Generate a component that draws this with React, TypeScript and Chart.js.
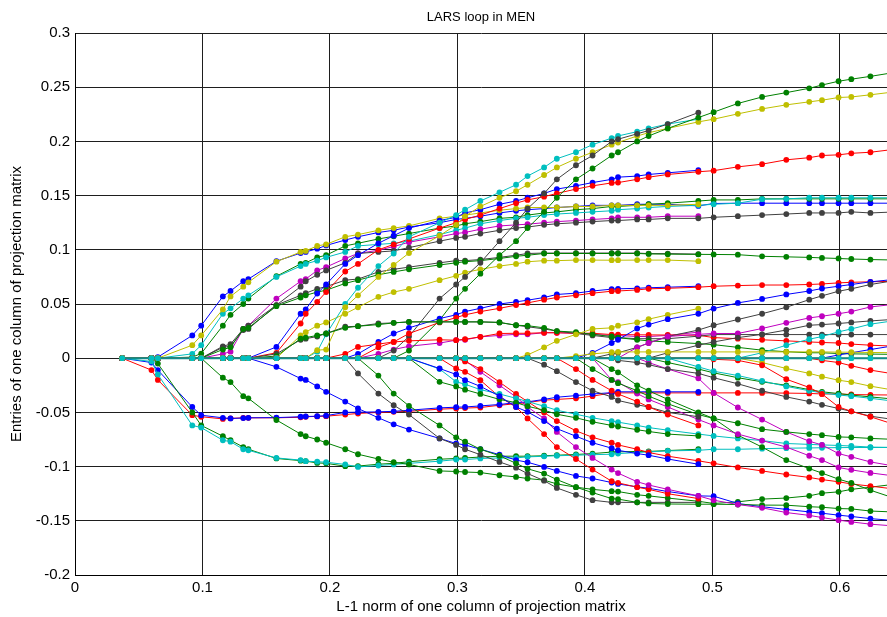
import React, { useEffect, useRef } from 'react';
import { Chart, registerables } from 'chart.js';

Chart.register(...registerables);

const N = null;

const titleText = 'LARS loop in MEN';
const xTitle = 'L-1 norm of one column of projection matrix';
const yTitle = 'Entries of one column of projection matrix';

const xTicks = [0, 0.1, 0.2, 0.3, 0.4, 0.5, 0.6];
const xTickLabels = ['0', '0.1', '0.2', '0.3', '0.4', '0.5', '0.6'];
const yTicks = [-0.2, -0.15, -0.1, -0.05, 0, 0.05, 0.1, 0.15, 0.2, 0.25, 0.3];
const yTickLabels = ['-0.2', '-0.15', '-0.1', '-0.05', '0', '0.05', '0.1', '0.15', '0.2', '0.25', '0.3'];

// L1-norm at each LARS step
const xSteps = [
  0.037, 0.060, 0.065, 0.092, 0.099, 0.116, 0.122, 0.132, 0.136, 0.158,
  0.177, 0.181, 0.190, 0.197, 0.212, 0.222, 0.238, 0.250, 0.262, 0.286,
  0.299, 0.306, 0.318, 0.333, 0.346, 0.355, 0.368, 0.378, 0.393, 0.406,
  0.421, 0.426, 0.441, 0.450, 0.465, 0.489, 0.501, 0.520, 0.539, 0.558,
  0.576, 0.586, 0.599, 0.609, 0.624, 0.645,
];

const blue1 = [
  0, 0, 0.001, 0.021, 0.03, 0.057, 0.062, 0.071, 0.073, 0.0895,
  0.097, 0.098, 0.101, 0.104, 0.109, 0.112, 0.116, 0.118, 0.121, 0.125,
  0.128, 0.129, 0.131, 0.134, 0.136, 0.137, 0.138, 0.139, 0.14, 0.141,
  0.141, 0.141, 0.142, 0.142, 0.142, 0.1405, 0.1427, 0.143, 0.143, 0.143,
  0.143, 0.143, 0.143, 0.143, 0.143, 0.143,
];
const yellow1 = [
  0, 0, 0, 0.012, 0.021, 0.045, 0.057, 0.066, 0.07, 0.089,
  0.098, 0.099, 0.1036, 0.105, 0.112, 0.114, 0.118, 0.12, 0.122, 0.129,
  0.131, 0.132, 0.134, 0.1365, 0.138, 0.139, 0.139, 0.139, 0.14, 0.14,
  0.141, 0.141, 0.141, 0.141, 0.141, 0.142, N, N, N, N,
  N, N, N, N, N, N,
];
const cyan1 = [
  0, 0, 0, 0.004, 0.012, 0.041, 0.046, 0.055, 0.058, 0.075,
  0.085, 0.087, 0.09, 0.093, 0.098, 0.1036, 0.105, 0.106, 0.108, 0.114,
  0.118, 0.12, 0.124, 0.127, 0.129, 0.13, 0.132, 0.133, 0.134, 0.135,
  0.136, 0.137, 0.138, 0.139, 0.14, 0.141, 0.142, 0.143, 0.1467, 0.147,
  0.148, 0.148, 0.148, 0.148, 0.148, 0.148,
];
const green1 = [
  0, 0, 0, 0.001, 0.0043, 0.03, 0.04, 0.05, 0.055, 0.0756,
  0.087, 0.088, 0.093, 0.095, 0.1036, 0.106, 0.11, 0.1125, 0.115, 0.12,
  0.122, 0.124, 0.126, 0.129, 0.13, 0.132, 0.134, 0.135, 0.137, 0.138,
  0.14, 0.14, 0.141, 0.142, 0.143, 0.145, 0.146, 0.146, 0.147, 0.147,
  0.147, 0.147, 0.147, 0.147, 0.147, 0.147,
];
const magenta1 = [
  0, 0, 0, 0, 0, 0.004, 0.006, 0.027, 0.03, 0.055,
  0.071, 0.073, 0.081, 0.084, 0.092, 0.0966, 0.0996, 0.103, 0.107, 0.112,
  0.115, 0.116, 0.119, 0.122, 0.123, 0.1236, 0.125, 0.126, 0.127, 0.128,
  0.129, 0.13, 0.13, 0.13, 0.131, 0.131, N, N, N, N,
  N, N, N, N, N, N,
];
const gray1 = [
  0, 0, 0, 0, 0, 0.011, 0.013, 0.027, 0.03, 0.049,
  0.066, 0.071, 0.077, 0.081, 0.088, 0.0966, 0.098, 0.099, 0.102, 0.108,
  0.111, 0.112, 0.115, 0.118, 0.12, 0.121, 0.123, 0.124, 0.125, 0.126,
  0.127, 0.127, 0.128, 0.128, 0.129, 0.129, 0.13, 0.131, 0.132, 0.133,
  0.134, 0.134, 0.134, 0.135, 0.134, 0.135,
];
const gray2 = [
  0, 0, 0, 0, 0, 0.01, 0.011, 0.026, 0.027, 0.049,
  0.058, 0.06, 0.064, 0.066, 0.072, 0.073, 0.0796, 0.082, 0.084, 0.088,
  0.09, 0.09, 0.091, 0.093, 0.095, 0.0966, 0.097, 0.097, 0.097, 0.097,
  0.097, 0.097, 0.097, 0.0965, 0.0965, 0.096, N, N, N, N,
  N, N, N, N, N, N,
];
const green2 = [
  0, 0, 0, 0, 0, 0.008, 0.01, 0.027, 0.028, 0.048,
  0.056, 0.058, 0.061, 0.0627, 0.069, 0.072, 0.077, 0.0796, 0.082, 0.086,
  0.088, 0.089, 0.09, 0.092, 0.094, 0.095, 0.0966, 0.0966, 0.0966, 0.0966,
  0.0966, 0.0966, 0.0966, 0.0962, 0.096, 0.0958, 0.0957, 0.0955, 0.094, 0.0935,
  0.093, 0.0925, 0.092, 0.0915, 0.091, 0.0905,
];
const blue2 = [
  0, 0, 0, 0, 0, 0, 0, 0, 0, 0.0104,
  0.041, 0.045, 0.0597, 0.068, 0.087, 0.095, 0.106, 0.113, 0.12, 0.127,
  0.13, 0.134, 0.137, 0.142, 0.145, 0.148, 0.152, 0.156, 0.159, 0.162,
  0.165, 0.167, 0.168, 0.1695, 0.171, 0.1734, N, N, N, N,
  N, N, N, N, N, N,
];
const red1 = [
  0, 0, 0, 0, 0, 0, 0, 0, 0, 0.005,
  0.032, 0.041, 0.052, 0.061, 0.08, 0.087, 0.1, 0.105, 0.11, 0.12,
  0.125, 0.128, 0.132, 0.138, 0.143, 0.146, 0.149, 0.152, 0.156, 0.159,
  0.1617, 0.162, 0.165, 0.167, 0.1695, 0.172, 0.173, 0.1765, 0.179, 0.183,
  0.185, 0.187, 0.1876, 0.189, 0.19, 0.193,
];
const yellow2 = [
  0, 0, 0, 0, 0, 0, 0, 0, 0, 0,
  0.021, 0.024, 0.03, 0.033, 0.041, 0.047, 0.0566, 0.061, 0.064, 0.072,
  0.076, 0.079, 0.082, 0.085, 0.087, 0.089, 0.09, 0.09, 0.0905, 0.0905,
  0.0904, 0.0904, 0.0905, 0.0905, 0.0905, 0.0895, N, N, N, N,
  N, N, N, N, N, N,
];
const blue3 = [
  0, 0, 0, 0, 0, 0, 0, 0, 0, 0.002,
  0.015, 0.021, 0.026, 0.03, 0.038, 0.043, 0.045, 0.0566, 0.061, 0.068,
  0.072, 0.075, 0.079, 0.083, 0.086, 0.087, 0.089, 0.09, 0.09, 0.09,
  0.09, 0.09, 0.0905, 0.0905, 0.09, 0.0895, 0.0895, 0.0885, 0.0876, 0.086,
  0.0855, 0.0855, 0.085, 0.084, 0.0837, 0.083,
];
const cyan2 = [
  0, 0, 0, 0, 0, 0, 0, 0, 0, 0,
  0, 0, 0.006, 0.022, 0.05, 0.065, 0.085, 0.0966, 0.112, 0.125,
  0.132, 0.137, 0.145, 0.153, 0.16, 0.168, 0.176, 0.184, 0.19, 0.197,
  0.203, 0.205, 0.209, 0.212, 0.216, 0.2205, N, N, N, N,
  N, N, N, N, N, N,
];
const yellow3 = [
  0, 0, 0, 0, 0, 0, 0, 0, 0, 0,
  0, 0, 0.0074, 0.008, 0.047, 0.058, 0.075, 0.086, 0.097, 0.113,
  0.123, 0.131, 0.14, 0.148, 0.154, 0.16, 0.169, 0.176, 0.184, 0.19,
  0.197, 0.199, 0.205, 0.208, 0.212, 0.218, 0.2205, 0.2254, 0.23, 0.2337,
  0.2365, 0.238, 0.2405, 0.241, 0.243, 0.246,
];
const gray3 = [
  0, 0, 0, 0, 0, 0, 0, 0, 0, 0,
  0, 0, 0, 0, 0, 0, 0, 0.007, 0.02, 0.055,
  0.068, 0.075, 0.088, 0.108, 0.125, 0.138, 0.152, 0.165, 0.178, 0.187,
  0.2, 0.202, 0.207, 0.21, 0.216, 0.2266, N, N, N, N,
  N, N, N, N, N, N,
];
const green3 = [
  0, 0, 0, 0, 0, 0, 0, 0, 0, 0,
  0, 0, 0, 0, 0, 0, 0, 0, 0.007, 0.035,
  0.055, 0.064, 0.078, 0.095, 0.108, 0.12, 0.135, 0.148, 0.165, 0.175,
  0.187, 0.19, 0.2, 0.205, 0.212, 0.222, 0.227, 0.235, 0.241, 0.245,
  0.249, 0.252, 0.2555, 0.2574, 0.26, 0.264,
];
const blue4 = [
  0, 0, 0, 0, 0, 0, 0, 0, 0, 0,
  0, 0, 0, 0, 0, 0.004, 0.015, 0.0228, 0.028, 0.0366,
  0.04, 0.043, 0.046, 0.05, 0.052, 0.0535, 0.056, 0.0588, 0.06, 0.062,
  0.0637, 0.064, 0.0645, 0.065, 0.0655, 0.0664, N, N, N, N,
  N, N, N, N, N, N,
];
const red2 = [
  0, 0, 0, 0, 0, 0, 0, 0, 0, 0,
  0, 0, 0, 0, 0, 0, 0.01, 0.015, 0.0228, 0.033,
  0.0375, 0.04, 0.043, 0.046, 0.049, 0.051, 0.054, 0.056, 0.058, 0.06,
  0.0618, 0.062, 0.063, 0.064, 0.0645, 0.0655, 0.0664, 0.067, 0.0675, 0.0675,
  0.068, 0.0685, 0.0695, 0.07, 0.0705, 0.071,
];
const red3 = [
  0, 0, 0, 0, 0, 0, 0, 0, 0, 0,
  0, 0, 0, 0, 0.004, 0.0104, 0.013, 0.015, 0.016, 0.017,
  0.0166, 0.0175, 0.0197, 0.0228, 0.023, 0.023, 0.0235, 0.0235, 0.023, 0.023,
  0.0218, 0.0218, 0.0216, 0.0215, 0.0214, 0.0212, 0.019, 0.018, 0.017, 0.016,
  0.015, 0.0145, 0.014, 0.013, 0.012, 0.011,
];
const magenta2 = [
  0, 0, 0, 0, 0, 0, 0, 0, 0, 0,
  0, 0, 0, 0, 0, 0, 0.004, 0.008, 0.011, 0.014,
  0.0166, 0.017, 0.0197, 0.021, 0.022, 0.022, 0.0235, 0.0235, 0.023, 0.022,
  0.021, 0.021, 0.02, 0.02, 0.021, 0.024, N, N, N, N,
  N, N, N, N, N, N,
];
const gray4 = [
  0, 0, 0, 0, 0, 0, 0, 0, 0, 0.004,
  0.017, 0.018, 0.02, 0.0228, 0.029, 0.0295, 0.032, 0.0326, 0.0335, 0.0335,
  0.0335, 0.0335, 0.0335, 0.033, 0.0304, 0.029, 0.027, 0.025, 0.0228, 0.021,
  0.019, 0.019, 0.018, 0.018, 0.018, 0.0203, 0.0218, 0.0218, 0.0218, 0.0218,
  0.0218, 0.0218, 0.0218, 0.0218, 0.0218, 0.0218,
];
const green4 = [
  0, 0, 0, 0, 0, 0, 0, 0, 0, 0.002,
  0.018, 0.019, 0.021, 0.0228, 0.028, 0.0295, 0.031, 0.0326, 0.0335, 0.0335,
  0.0335, 0.0335, 0.0335, 0.033, 0.0304, 0.03, 0.028, 0.025, 0.024, 0.022,
  0.02, 0.019, 0.017, 0.016, 0.015, 0.0135, 0.0125, 0.01, 0.0074, 0.006,
  0.005, 0.005, 0.0043, 0.004, 0.0038, 0.0035,
];
const red4 = [
  0, -0.011, -0.02, -0.0526, -0.054, -0.056, -0.0555, -0.055, -0.055, -0.055,
  -0.0545, -0.054, -0.0537, -0.0535, -0.052, -0.051, -0.05, -0.0495, -0.049, -0.047,
  -0.0464, -0.046, -0.0455, -0.0434, -0.042, -0.041, -0.0387, -0.038, -0.037, -0.035,
  -0.032, -0.032, -0.032, -0.032, -0.032, -0.032, -0.032, -0.032, -0.032, -0.0322,
  -0.0325, -0.033, -0.033, -0.0335, -0.0338, -0.034,
];
const blue5 = [
  0, -0.004, -0.011, -0.045, -0.0526, -0.055, -0.0556, -0.0552, -0.055, -0.0548,
  -0.054, -0.0538, -0.0535, -0.053, -0.05, -0.0498, -0.0495, -0.049, -0.048, -0.0458,
  -0.0452, -0.045, -0.044, -0.0427, -0.041, -0.0403, -0.038, -0.036, -0.0345, -0.033,
  -0.0318, -0.031, -0.031, -0.031, -0.031, -0.031, N, N, N, N,
  N, N, N, N, N, N,
];
const cyan3 = [
  0, -0.003, -0.015, -0.062, -0.064, -0.0757, -0.077, -0.084, -0.085, -0.092,
  -0.094, -0.095, -0.0955, -0.096, -0.098, -0.1003, -0.099, -0.098, -0.097, -0.095,
  -0.0935, -0.0935, -0.0925, -0.092, -0.092, -0.091, -0.0905, -0.09, -0.0895, -0.089,
  -0.0886, -0.088, -0.087, -0.0865, -0.0855, -0.085, -0.084, -0.084, -0.0835, -0.083,
  -0.0828, -0.0826, -0.0825, -0.0824, -0.0824, -0.0822,
];
const green5 = [
  0, 0, -0.005, -0.05, -0.062, -0.072, -0.0757, -0.082, -0.084, -0.0925,
  -0.0945, -0.095, -0.0966, -0.097, -0.0996, -0.0995, -0.0978, -0.097, -0.0955, -0.0932,
  -0.0925, -0.092, -0.0912, -0.0904, -0.0904, -0.0904, -0.09, -0.0895, -0.0888, -0.088,
  -0.0866, -0.0864, -0.086, -0.086, -0.0852, -0.084, N, N, N, N,
  N, N, N, N, N, N,
];
const green6 = [
  0, 0, 0, 0, 0, -0.018, -0.022, -0.035, -0.037, -0.057,
  -0.07, -0.072, -0.075, -0.078, -0.084, -0.0886, -0.093, -0.096, -0.098, -0.104,
  -0.1045, -0.105, -0.1055, -0.108, -0.1095, -0.111, -0.1125, -0.116, -0.119, -0.121,
  -0.1227, -0.123, -0.126, -0.127, -0.129, -0.132, -0.134, -0.1325, -0.13, -0.129,
  -0.127, -0.1245, -0.1233, -0.121, -0.119, -0.116,
];
const blue6 = [
  0, 0, 0, 0, 0, 0, 0, 0, 0, -0.008,
  -0.0188, -0.02, -0.026, -0.031, -0.04, -0.0464, -0.055, -0.061, -0.0658, -0.074,
  -0.0787, -0.08, -0.084, -0.089, -0.094, -0.096, -0.1003, -0.104, -0.1086, -0.111,
  -0.1147, -0.116, -0.1187, -0.12, -0.123, -0.127, -0.1273, -0.134, -0.137, -0.1395,
  -0.1418, -0.143, -0.1448, -0.146, -0.148, -0.15,
];
const gray5 = [
  0, 0, 0, 0, 0, 0, 0, 0, 0, 0,
  0, 0, 0, 0, 0, -0.014, -0.0326, -0.0434, -0.052, -0.074,
  -0.08, -0.084, -0.089, -0.0957, -0.101, -0.1064, -0.113, -0.1197, -0.126, -0.131,
  -0.133, -0.133, -0.133, -0.133, -0.133, -0.133, N, N, N, N,
  N, N, N, N, N, N,
];
const green7 = [
  0, 0, 0, 0, 0, 0, 0, 0, 0, 0,
  0, 0, 0, 0, 0, 0, -0.016, -0.0326, -0.044, -0.062,
  -0.073, -0.077, -0.084, -0.09, -0.097, -0.102, -0.1064, -0.112, -0.119, -0.124,
  -0.1295, -0.13, -0.133, -0.134, -0.1345, -0.1347, -0.1347, -0.135, -0.1355, -0.1356,
  -0.137, -0.1375, -0.1387, -0.139, -0.141, -0.142,
];
const red5 = [
  0, 0, 0, 0, 0, 0, 0, 0, 0, 0,
  0, 0, 0, 0, 0, 0, 0, 0, 0, 0,
  -0.0095, -0.0126, -0.0203, -0.0357, -0.045, -0.0556, -0.07, -0.082, -0.093, -0.1027,
  -0.1135, -0.115, -0.119, -0.121, -0.125, -0.1295, N, N, N, N,
  N, N, N, N, N, N,
];
const magenta3 = [
  0, 0, 0, 0, 0, 0, 0, 0, 0, 0,
  0, 0, 0, 0, 0, 0, 0, 0, 0, 0,
  0, -0.002, -0.0126, -0.025, -0.0357, -0.045, -0.0556, -0.068, -0.082, -0.092,
  -0.1027, -0.106, -0.114, -0.117, -0.121, -0.127, -0.131, -0.135, -0.138, -0.1424,
  -0.145, -0.147, -0.1494, -0.151, -0.1531, -0.155,
];
const red6 = [
  0, 0, 0, 0, 0, 0, 0, 0, 0, 0,
  0, 0, 0, 0, 0, 0, 0, 0, 0, 0,
  0, -0.003, -0.01, -0.022, -0.033, -0.04, -0.05, -0.058, -0.067, -0.073,
  -0.078, -0.08, -0.084, -0.087, -0.0904, -0.0947, -0.097, -0.1008, -0.104, -0.1073,
  -0.11, -0.112, -0.114, -0.116, -0.118, -0.121,
];
const cyan4 = [
  0, 0, 0, 0, 0, 0, 0, 0, 0, 0,
  0, 0, 0, 0, 0, 0, 0, 0, 0, -0.01,
  -0.0218, -0.024, -0.029, -0.033, -0.037, -0.04, -0.0443, -0.048, -0.0517, -0.055,
  -0.058, -0.059, -0.062, -0.064, -0.0664, -0.07, -0.0717, -0.074, -0.076, -0.0787,
  -0.0795, -0.08, -0.0805, -0.081, -0.082, -0.0825,
];
const green8 = [
  0, 0, 0, 0, 0, 0, 0, 0, 0, 0,
  0, 0, 0, 0, 0, 0, 0, 0, 0, -0.0218,
  -0.026, -0.029, -0.033, -0.038, -0.041, -0.0443, -0.048, -0.0517, -0.055, -0.0587,
  -0.062, -0.063, -0.066, -0.0676, -0.07, -0.0717, N, N, N, N,
  N, N, N, N, N, N,
];
const green9 = [
  0, 0, 0, 0, 0, 0, 0, 0, 0, 0,
  0, 0, 0, 0, 0, 0, 0, 0, 0, 0,
  0, 0, 0, 0, 0, 0, 0, 0, 0, 0,
  -0.01, -0.013, -0.025, -0.03, -0.038, -0.05, -0.0556, -0.071, -0.082, -0.094,
  -0.1018, -0.106, -0.1116, -0.115, -0.1218, -0.13,
];
const magenta4 = [
  0, 0, 0, 0, 0, 0, 0, 0, 0, 0,
  0, 0, 0, 0, 0, 0, 0, 0, 0, 0,
  0, 0, 0, 0, 0, 0, 0, 0, 0, 0,
  0, 0, 0, -0.004, -0.01, -0.0185, -0.032, -0.0455, -0.0566, -0.068,
  -0.0766, -0.08, -0.088, -0.091, -0.0957, -0.1,
];
const magenta5 = [
  0, 0, 0, 0, 0, 0, 0, 0, 0, 0,
  0, 0, 0, 0, 0, 0, 0, 0, 0, 0,
  0, 0, 0, 0, 0, 0, 0, 0, 0, 0,
  -0.02, -0.022, -0.0326, -0.038, -0.045, -0.0566, -0.062, -0.07, -0.076, -0.082,
  -0.09, -0.094, -0.1008, -0.103, -0.1058, -0.109,
];
const yellow4 = [
  0, 0, 0, 0, 0, 0, 0, 0, 0, 0,
  0, 0, 0, 0, 0, 0, 0, 0, 0, 0,
  0, 0, 0, 0, 0, 0.003, 0.01, 0.016, 0.022, 0.027,
  0.028, 0.03, 0.033, 0.036, 0.04, 0.0458, N, N, N, N,
  N, N, N, N, N, N,
];
const blue7 = [
  0, 0, 0, 0, 0, 0, 0, 0, 0, 0,
  0, 0, 0, 0, 0, 0, 0, 0, 0, 0,
  0, 0, 0, 0, 0, 0, 0, 0, 0, 0.005,
  0.014, 0.017, 0.0274, 0.031, 0.036, 0.041, 0.0458, 0.051, 0.0547, 0.0588,
  0.062, 0.0643, 0.0664, 0.068, 0.0704, 0.073,
];
const gray6 = [
  0, 0, 0, 0, 0, 0, 0, 0, 0, 0,
  0, 0, 0, 0, 0, 0, 0, 0, 0, 0,
  0, 0, 0, 0, 0, 0, 0, 0, 0, 0,
  0.004, 0.005, 0.01, 0.014, 0.02, 0.026, 0.0304, 0.0357, 0.041, 0.047,
  0.054, 0.0575, 0.0618, 0.064, 0.068, 0.072,
];
const magenta6 = [
  0, 0, 0, 0, 0, 0, 0, 0, 0, 0,
  0, 0, 0, 0, 0, 0, 0, 0, 0, 0,
  0, 0, 0, 0, 0, 0, 0, 0, 0, 0,
  0, 0, 0.01, 0.014, 0.02, 0.022, 0.0228, 0.0228, 0.0274, 0.0326,
  0.0372, 0.0387, 0.041, 0.043, 0.0473, 0.05,
];
const gray7 = [
  0, 0, 0, 0, 0, 0, 0, 0, 0, 0,
  0, 0, 0, 0, 0, 0, 0, 0, 0, 0,
  0, 0, 0, 0, 0, 0, 0, 0, 0, 0,
  0, 0, 0, 0, 0.005, 0.012, 0.015, 0.019, 0.022, 0.026,
  0.0304, 0.031, 0.032, 0.033, 0.0344, 0.036,
];
const cyan5 = [
  0, 0, 0, 0, 0, 0, 0, 0, 0, 0,
  0, 0, 0, 0, 0, 0, 0, 0, 0, 0,
  0, 0, 0, 0, 0, 0, 0, 0, 0, 0,
  0, 0, 0, 0, 0, 0, 0, 0, 0.005, 0.012,
  0.0175, 0.02, 0.0243, 0.027, 0.0314, 0.035,
];
const blue8 = [
  0, 0, 0, 0, 0, 0, 0, 0, 0, 0,
  0, 0, 0, 0, 0, 0, 0, 0, 0, 0,
  0, 0, 0, 0, 0, 0, 0, 0, 0, 0,
  0, 0, 0, 0, 0, 0, 0, 0, 0, 0,
  0, 0, 0.003, 0.005, 0.008, 0.012,
];
const yellow5 = [
  0, 0, 0, 0, 0, 0, 0, 0, 0, 0,
  0, 0, 0, 0, 0, 0, 0, 0, 0, 0,
  0, 0, 0, 0, 0, 0, 0, 0, 0, 0,
  0, 0, 0, 0, 0, 0, 0, 0, -0.004, -0.0095,
  -0.014, -0.017, -0.0203, -0.022, -0.0258, -0.03,
];
const yellow6 = [
  0, 0, 0, 0, 0, 0, 0, 0, 0, 0,
  0, 0, 0, 0, 0, 0, 0, 0, 0, 0,
  0, 0, 0, 0, 0, 0, 0, 0, 0.002, 0.004,
  0.0055, 0.0058, 0.0058, 0.0058, 0.0058, 0.0058, 0.0058, 0.0058, 0.0058, 0.0058,
  0.0058, 0.0058, 0.0056, 0.0055, 0.0053, 0.005,
];
const green10 = [
  0, 0, 0, 0, 0, 0, 0, 0, 0, 0,
  0, 0, 0, 0, 0, 0, 0, 0, 0, 0,
  0, 0, 0, 0, 0, 0, 0, 0, 0, 0,
  0, 0, 0, 0, -0.004, -0.01, -0.0135, -0.018, -0.0218, -0.025,
  -0.029, -0.031, -0.0326, -0.034, -0.0357, -0.038,
];
const cyan6 = [
  0, 0, 0, 0, 0, 0, 0, 0, 0, 0,
  0, 0, 0, 0, 0, 0, 0, 0, 0, 0,
  0, 0, 0, 0, 0, 0, 0, 0, 0, 0,
  0, 0, 0, 0, 0, -0.008, -0.012, -0.016, -0.021, -0.026,
  -0.03, -0.032, -0.034, -0.035, -0.037, -0.04,
];
const gray8 = [
  0, 0, 0, 0, 0, 0, 0, 0, 0, 0,
  0, 0, 0, 0, 0, 0, 0, 0, 0, 0,
  0, 0, 0, 0, 0, 0, 0, 0, 0, 0,
  0, -0.002, -0.004, -0.006, -0.01, -0.014, -0.018, -0.0236, -0.03, -0.0357,
  -0.04, -0.043, -0.0464, -0.049, -0.0535, -0.057,
];
const red7 = [
  0, 0, 0, 0, 0, 0, 0, 0, 0, 0,
  0, 0, 0, 0, 0, 0, 0, 0, 0, 0,
  0, 0, 0, 0, 0, 0, 0, 0, 0, 0,
  0, 0, 0, 0, 0, 0, -0.001, -0.002, -0.0065, -0.0194,
  -0.027, -0.033, -0.045, -0.049, -0.054, -0.062,
];
const red9 = [
  0, 0, 0, 0, 0, 0, 0, 0, 0, 0,
  0, 0, 0, 0, 0, 0, 0, 0, 0, 0,
  0, 0, 0, 0, 0, 0, 0, 0, 0, 0,
  0, 0, 0, 0, 0, 0, 0, 0, 0, 0,
  0, -0.002, -0.004, -0.007, -0.011, -0.015,
];
const blue9 = [
  0, 0, 0, 0, 0, 0, 0, 0, 0, 0,
  0, 0, 0, 0, 0, 0, 0, 0, 0, -0.0095,
  -0.015, -0.0203, -0.026, -0.035, -0.045, -0.0495, -0.058, -0.065, -0.072, -0.078,
  -0.083, -0.085, -0.088, -0.0895, -0.093, -0.0978, N, N, N, N,
  N, N, N, N, N, N,
];
const green11 = [
  0, 0, 0, 0, 0, 0, 0, 0, 0, 0,
  0, 0, 0, 0, 0, 0, 0, 0, 0, 0,
  0, 0, 0, 0, 0, 0, 0, 0, 0, -0.01,
  -0.02, -0.023, -0.03, -0.035, -0.042, -0.052, -0.0556, -0.06, -0.0655, -0.068,
  -0.07, -0.071, -0.0726, -0.073, -0.074, -0.075,
];
const gray9 = [
  0, 0, 0, 0, 0, 0, 0, 0, 0, 0,
  0, 0, 0, 0, 0, 0, 0, 0, 0, 0,
  0, 0, 0, 0, 0, 0, -0.006, -0.012, -0.022, -0.03,
  -0.0357, -0.039, -0.043, -0.045, -0.05, -0.054, N, N, N, N,
  N, N, N, N, N, N,
];
const red8 = [
  0, 0, 0, 0, 0, 0, 0, 0, 0, 0,
  0, 0, 0, 0, 0, 0, 0, 0, 0, 0,
  0, 0, 0, 0, 0, 0, 0, 0, -0.01, -0.02,
  -0.03, -0.033, -0.04, -0.045, -0.052, -0.062, N, N, N, N,
  N, N, N, N, N, N,
];
const zeroYellow = [
  0, 0, 0, 0, 0, 0, 0, 0, 0, 0,
  0, 0, 0, 0, 0, 0, 0, 0, 0, 0,
  0, 0, 0, 0, 0, 0, 0, 0, 0, 0,
  0, 0, 0, 0, 0, 0, 0, 0, 0, 0,
  0, 0, 0, 0, 0, 0,
];
const zeroCyan = [
  0, 0, 0, 0, 0, 0, 0, 0, 0, 0,
  0, 0, 0, 0, 0, 0, 0, 0, 0, 0,
  0, 0, 0, 0, 0, 0, 0, 0, 0, 0,
  0, 0, 0, 0, 0, 0, 0, 0, 0, 0,
  0, 0, 0, 0, 0, 0,
];

const palette: Record<string, string> = {
  b: '#0000ff',
  g: '#008000',
  r: '#ff0000',
  c: '#00bfbf',
  m: '#bf00bf',
  y: '#bfbf00',
  k: '#404040',
  t: '#118c8c',
};

const seriesList: [Array<number | null>, string][] = [
  [blue1, 'b'], [green1, 'g'], [red4, 'r'], [cyan1, 'c'], [magenta1, 'm'], [yellow1, 'y'], [gray1, 'k'],
  [blue5, 'b'], [green5, 'g'], [cyan3, 'c'], [magenta2, 'm'], [yellow2, 'y'], [gray2, 'k'], [green2, 'g'],
  [blue2, 'b'], [red1, 'r'], [cyan2, 'c'], [yellow3, 'y'], [gray3, 'k'], [green3, 'g'], [blue4, 'b'],
  [red2, 'r'], [red3, 'r'], [gray4, 'k'], [green4, 'g'], [green6, 'g'], [blue6, 'b'], [gray5, 'k'],
  [green7, 'g'], [red5, 'r'], [magenta3, 'm'], [red6, 'r'], [cyan4, 'c'], [green8, 'g'], [green9, 'g'],
  [magenta4, 'm'], [magenta5, 'm'], [yellow4, 'y'], [blue7, 'b'], [gray6, 'k'], [magenta6, 'm'], [gray7, 'k'],
  [cyan5, 'c'], [blue8, 'b'], [yellow5, 'y'], [yellow6, 'y'], [green10, 'g'], [cyan6, 'c'], [gray8, 'k'],
  [red7, 'r'], [red9, 'r'], [blue9, 'b'], [green11, 'g'], [gray9, 'k'], [red8, 'r'],
  [zeroYellow, 'y'], [zeroCyan, 't'],
];

const FONT = '"Liberation Sans", Arial, Helvetica, sans-serif';

const titlePlugin = {
  id: 'centeredTitle',
  afterDraw(chart: any) {
    const { ctx, chartArea } = chart;
    ctx.save();
    ctx.font = `13px ${FONT}`;
    ctx.fillStyle = '#000';
    ctx.textAlign = 'center';
    ctx.textBaseline = 'middle';
    ctx.fillText(titleText, (chartArea.left + chartArea.right) / 2, 17);
    ctx.restore();
  },
};

export default function App() {
  const ref = useRef<HTMLCanvasElement>(null);

  useEffect(() => {
    if (!ref.current) return;
    const n = seriesList.length;
    const datasets = seriesList.map(([vals, key], i) => {
      const isZero = key === 't';
      const lineColor = palette[key];
      const dotColor = isZero ? palette.c : lineColor;
      return {
        data: xSteps.map((x, j) => ({ x, y: vals[j] })),
        borderColor: lineColor,
        backgroundColor: dotColor,
        pointBackgroundColor: dotColor,
        pointBorderColor: dotColor,
        pointBorderWidth: 0,
        pointRadius: 2.9,
        borderWidth: isZero ? 2 : 1,
        tension: 0,
        spanGaps: false,
        order: n - i,
      };
    });

    const chart = new Chart(ref.current, {
      type: 'line',
      data: { datasets },
      options: {
        animation: false,
        responsive: false,
        devicePixelRatio: 1,
        layout: { autoPadding: false, padding: { top: 33, left: 0, right: 0, bottom: 0 } },
        plugins: {
          legend: { display: false },
          tooltip: { enabled: false },
          title: { display: false },
        },
        scales: {
          x: {
            type: 'linear',
            min: 0,
            max: 0.637,
            afterBuildTicks: (s: any) => {
              s.ticks = xTicks.map((v) => ({ value: v }));
            },
            afterFit: (s: any) => {
              s.height = 42;
            },
            ticks: {
              callback: (_v: any, i: number) => xTickLabels[i],
              font: { family: FONT, size: 15 },
              color: '#000',
              padding: 4,
              maxRotation: 0,
              autoSkip: false,
            },
            grid: { color: '#1e1e1e', lineWidth: 1, drawTicks: false },
            border: { display: true, color: '#000' },
            title: {
              display: true,
              text: xTitle,
              font: { family: FONT, size: 15 },
              color: '#000',
              padding: { top: 0, bottom: 1 },
            },
          },
          y: {
            type: 'linear',
            min: -0.2,
            max: 0.3,
            afterBuildTicks: (s: any) => {
              s.ticks = yTicks.map((v) => ({ value: v }));
            },
            afterFit: (s: any) => {
              s.width = 75;
            },
            ticks: {
              callback: (_v: any, i: number) => yTickLabels[i],
              font: { family: FONT, size: 15 },
              color: '#000',
              padding: 5,
              autoSkip: false,
            },
            grid: { color: '#1e1e1e', lineWidth: 1, drawTicks: false },
            border: { display: true, color: '#000' },
            title: {
              display: true,
              text: yTitle,
              font: { family: FONT, size: 15 },
              color: '#000',
              padding: { top: 8, bottom: 0 },
            },
          },
        },
      },
      plugins: [titlePlugin],
    } as any);

    return () => chart.destroy();
  }, []);

  return (
    <div style={{ position: 'fixed', left: 0, top: 0, width: 887, height: 617, background: '#fff' }}>
      <canvas ref={ref} width={887} height={617} style={{ display: 'block' }} />
    </div>
  );
}
